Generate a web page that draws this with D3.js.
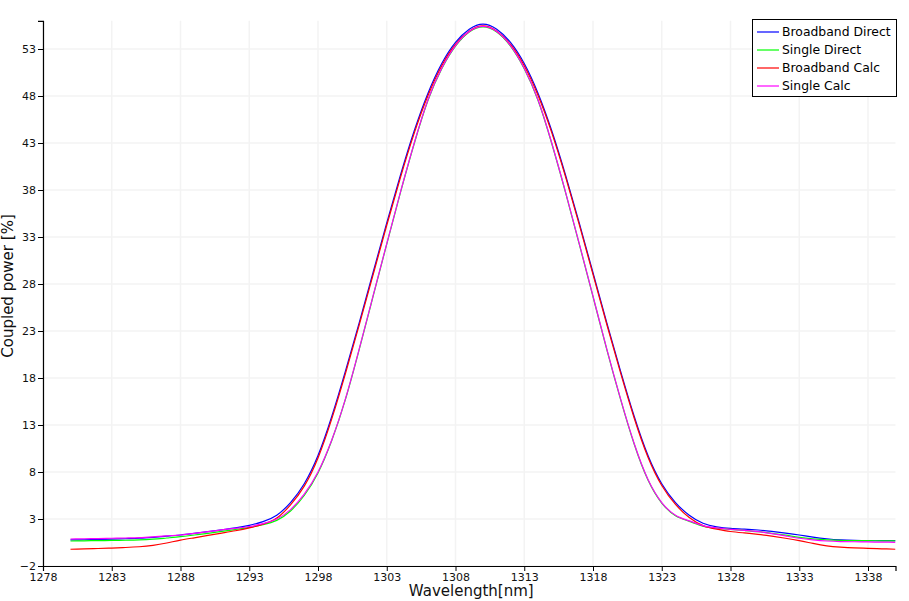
<!DOCTYPE html>
<html>
<head>
<meta charset="utf-8">
<script src="https://cdn.jsdelivr.net/npm/d3@7"></script>
<style>
  html, body { margin: 0; padding: 0; background: #ffffff; }
  svg { display: block; font-family: "DejaVu Sans", sans-serif; }
</style>
</head>
<body>
<svg id="chart" width="909" height="601"></svg>
<script>
const wavelength = [1280,1281,1282,1283,1284,1285,1286,1287,1288,1289,1290,1291,1292,1293,1294,1295,1296,1297,1298,1299,1300,1301,1302,1303,1304,1305,1306,1307,1308,1309,1310,1311,1312,1313,1314,1315,1316,1317,1318,1319,1320,1321,1322,1323,1324,1325,1326,1327,1328,1329,1330,1331,1332,1333,1334,1335,1336,1337,1338,1339,1340];

const broadbandDirect = [0.77,0.79,0.82,0.85,0.90,0.95,1.05,1.17,1.30,1.47,1.65,1.85,2.05,2.32,2.72,3.40,4.75,6.75,9.75,13.90,18.75,23.90,29.20,34.50,39.60,44.30,48.30,51.45,53.70,55.10,55.65,55.10,53.70,51.45,48.30,44.30,39.60,34.50,29.20,23.90,18.75,13.90,9.75,6.75,4.75,3.40,2.55,2.17,2.00,1.92,1.83,1.68,1.50,1.30,1.08,0.90,0.78,0.72,0.69,0.69,0.69];

const singleDirect = [0.66,0.68,0.70,0.72,0.74,0.77,0.85,0.98,1.12,1.30,1.48,1.68,1.88,2.10,2.40,2.85,3.85,5.50,7.90,11.35,15.75,21.05,26.65,32.25,37.75,42.95,47.55,50.90,53.30,54.80,55.35,54.80,53.30,50.90,47.55,42.95,37.75,32.25,26.65,21.05,15.75,10.95,7.15,4.70,3.35,2.75,2.25,2.02,1.90,1.78,1.65,1.48,1.28,1.05,0.88,0.77,0.72,0.70,0.69,0.68,0.67];

const broadbandCalc = [-0.22,-0.18,-0.14,-0.09,-0.03,0.05,0.20,0.45,0.75,1.00,1.25,1.50,1.75,2.05,2.45,3.10,4.50,6.50,9.50,13.65,18.50,23.65,28.95,34.25,39.35,44.05,48.05,51.22,53.48,54.88,55.45,54.88,53.48,51.22,48.08,44.10,39.42,34.32,29.02,23.72,18.57,13.72,9.57,6.57,4.55,3.15,2.30,1.92,1.67,1.52,1.37,1.17,0.95,0.70,0.40,0.14,0.00,-0.08,-0.12,-0.17,-0.22];

const singleCalc = [0.87,0.90,0.92,0.95,0.98,1.01,1.10,1.20,1.30,1.48,1.65,1.85,2.00,2.20,2.50,3.00,4.00,5.65,8.00,11.40,15.80,21.10,26.70,32.30,37.80,43.00,47.60,50.95,53.35,54.85,55.40,54.85,53.35,50.95,47.60,43.00,37.80,32.30,26.70,21.10,15.80,11.00,7.20,4.75,3.40,2.80,2.30,2.05,1.90,1.78,1.65,1.45,1.20,0.95,0.78,0.66,0.60,0.58,0.56,0.54,0.52];

const seriesNames = ["Broadband Direct", "Single Direct", "Broadband Calc", "Single Calc"];
const seriesValues = [broadbandDirect, singleDirect, broadbandCalc, singleCalc];
const seriesColors = ["#0000ff", "#00ff00", "#ff0000", "#ff00ff"];

const xTicks = [1278,1283,1288,1293,1298,1303,1308,1313,1318,1323,1328,1333,1338];
const yTicks = [-2,3,8,13,18,23,28,33,38,43,48,53];
const xDomain = [1278, 1340];
const yDomain = [-2, 56];

const W = 909, H = 601;
const margin = {left: 43, right: 13.5, top: 20.8, bottom: 35};

const svg = d3.select("#chart");
const x = d3.scaleLinear().domain(xDomain).range([margin.left, W - margin.right]);
const y = d3.scaleLinear().domain(yDomain).range([H - margin.bottom, margin.top]);

// grid
const grid = svg.append("g");
grid.selectAll("line.v").data(xTicks).join("line")
  .attr("x1", d => x(d)).attr("x2", d => x(d))
  .attr("y1", y(yDomain[0])).attr("y2", y(yDomain[1]))
  .attr("stroke", "#f3f3f3").attr("stroke-width", 1.5);
grid.selectAll("line.h").data(yTicks).join("line")
  .attr("y1", d => y(d)).attr("y2", d => y(d))
  .attr("x1", x(xDomain[0])).attr("x2", x(xDomain[1]))
  .attr("stroke", "#f3f3f3").attr("stroke-width", 1.5);

// lines
const line = d3.line()
  .x((d, i) => x(wavelength[i]))
  .y(d => y(d))
  .curve(d3.curveNatural);

const clipId = "plotclip";
svg.append("clipPath").attr("id", clipId).append("rect")
  .attr("x", x(xDomain[0])).attr("y", y(yDomain[1]))
  .attr("width", x(xDomain[1]) - x(xDomain[0]))
  .attr("height", y(yDomain[0]) - y(yDomain[1]));

const lines = svg.append("g").attr("clip-path", `url(#${clipId})`);
seriesValues.forEach((vals, k) => {
  lines.append("path")
    .datum(vals)
    .attr("d", line)
    .attr("fill", "none")
    .attr("stroke", seriesColors[k])
    .attr("stroke-width", 1.2);
});

// axes
const xAxis = d3.axisBottom(x).tickValues(xTicks).tickSize(5).tickPadding(2).tickFormat(d3.format("d"));
const yAxis = d3.axisLeft(y).tickValues(yTicks).tickSize(5).tickPadding(2).tickFormat(d3.format("d"));

const gx = svg.append("g").attr("transform", `translate(0,${y(yDomain[0])})`).call(xAxis);
const gy = svg.append("g").attr("transform", `translate(${x(xDomain[0])},0)`).call(yAxis);
[gx, gy].forEach(g => {
  g.select(".domain").attr("stroke", "#000").attr("stroke-width", 1.2);
  g.selectAll(".tick line").attr("stroke", "#000");
  g.selectAll(".tick text").attr("fill", "#111").style("font-family", "DejaVu Sans").style("font-size", "11px");
});

// axis titles
svg.append("text")
  .attr("x", (x(xDomain[0]) + x(xDomain[1])) / 2 + 2)
  .attr("y", 595.5)
  .attr("text-anchor", "middle")
  .style("font-size", "15px")
  .attr("fill", "#111")
  .text("Wavelength[nm]");

svg.append("text")
  .attr("transform", `translate(13,286) rotate(-90)`)
  .attr("text-anchor", "middle")
  .style("font-size", "15px")
  .attr("fill", "#111")
  .text("Coupled power [%]");

// legend
const lg = svg.append("g");
lg.append("rect")
  .attr("x", 752.5).attr("y", 19.5).attr("width", 144).attr("height", 77)
  .attr("fill", "#fff").attr("stroke", "#000").attr("stroke-width", 1);
seriesNames.forEach((name, k) => {
  const yy = 32 + k * 18;
  lg.append("line").attr("x1", 757).attr("x2", 779).attr("y1", yy).attr("y2", yy)
    .attr("stroke", seriesColors[k]).attr("stroke-width", 1.2);
  lg.append("text").attr("x", 782).attr("y", yy).attr("dy", "0.35em")
    .style("font-size", "12.4px").attr("fill", "#000").text(name);
});
</script>
</body>
</html>
